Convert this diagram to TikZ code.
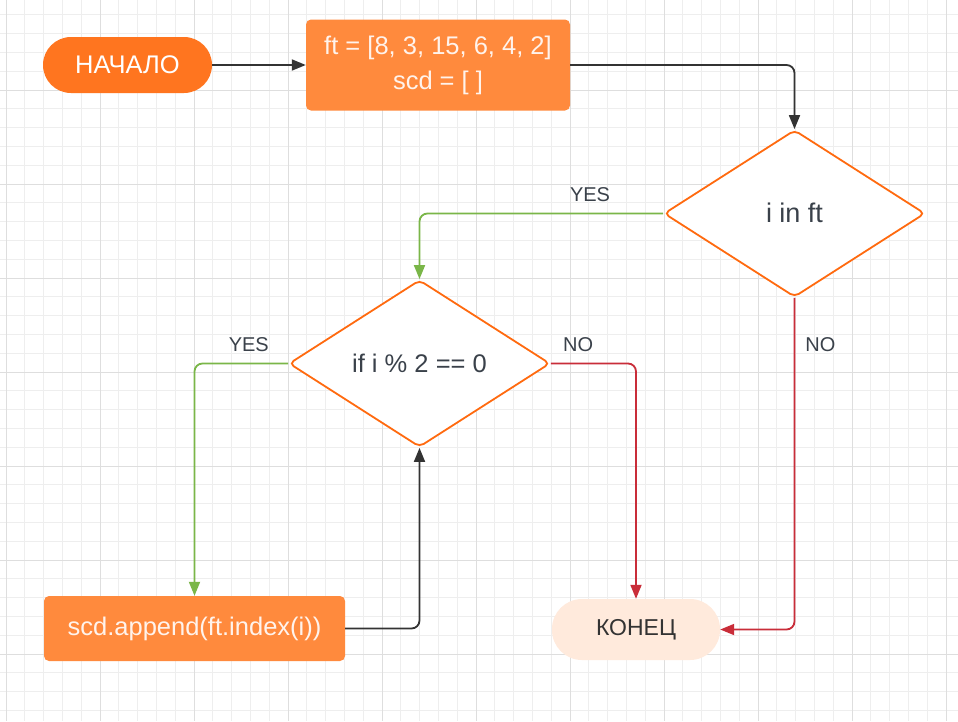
\documentclass[tikz,border=0pt]{standalone}
\usepackage{fontspec}
\setmainfont{Liberation Sans}
\usetikzlibrary{shapes.geometric,arrows.meta}

\definecolor{startorange}{HTML}{FF751F}
\definecolor{boxorange}{HTML}{FF8A3D}
\definecolor{lineorange}{HTML}{FF6A0F}
\definecolor{boxtext}{HTML}{FFF3EC}
\definecolor{yesgreen}{HTML}{7AB648}
\definecolor{nored}{HTML}{C92D39}
\definecolor{endpeach}{HTML}{FFEADC}
\definecolor{textdark}{HTML}{3A414A}
\definecolor{flowdark}{HTML}{333333}
\definecolor{gridminor}{HTML}{EEEEEE}
\definecolor{gridmajor}{HTML}{DEDEDE}

\tikzset{
  startnode/.style={rectangle, rounded corners=28pt, fill=startorange, text=white,
    minimum width=169pt, minimum height=56pt, inner sep=0pt},
  endnode/.style={rectangle, rounded corners=30pt, fill=endpeach, text=flowdark,
    minimum width=168pt, minimum height=61pt, inner sep=0pt,
    font=\fontsize{23}{28}\selectfont},
  procbox/.style={rectangle, rounded corners=5pt, fill=boxorange, text=boxtext,
    align=center, inner sep=0pt},
  decision/.style={diamond, draw=lineorange, line width=1.8pt, fill=white,
    rounded corners=5pt, minimum width=261pt, minimum height=167pt,
    inner sep=0pt, text=textdark},
  flow/.style={line width=1.8pt, rounded corners=8pt, flowdark,
    -{Triangle[length=14pt,width=11pt]}},
  edgelabel/.style={font=\fontsize{20}{24}\selectfont, text=textdark, inner sep=0pt}
}

\begin{document}
\begin{tikzpicture}[x=1pt, y=-1pt, every node/.style={font=\fontsize{25.5}{35}\selectfont}]
  \useasboundingbox (0,0) rectangle (958,721);
  \fill[white] (0,0) rectangle (958,721);

  % grid
  \foreach \k in {0,...,50} {
    \draw[gridminor, line width=1pt] ({6+18.8*\k},0) -- ({6+18.8*\k},721);
  }
  \foreach \k in {0,...,38} {
    \draw[gridminor, line width=1pt] (0,{-4+18.8*\k}) -- (958,{-4+18.8*\k});
  }
  \foreach \k in {0,...,10} {
    \draw[gridmajor, line width=1pt] ({6+94*\k},0) -- ({6+94*\k},721);
  }
  \foreach \k in {1,...,7} {
    \draw[gridmajor, line width=1pt] (0,{-4+94*\k}) -- (958,{-4+94*\k});
  }

  % blocks
  \node[startnode] (start) at (127.5,65) {НАЧАЛО};
  \node[procbox, minimum width=264pt, minimum height=91pt] (init) at (438,65)
    {ft = [8, 3, 15, 6, 4, 2]\\scd = [ ]};
  \node[decision, font=\fontsize{27}{32}\selectfont] (loop) at (794.5,213.5) {\raisebox{2pt}{i in ft}};
  \node[decision] (check) at (419.5,363.5) {if i \% 2 == 0};
  \node[procbox, minimum width=301pt, minimum height=65pt] (append) at (194.5,628.5)
    {scd.append(ft.index(i))};
  \node[endnode] (stop) at (636,629.5) {КОНЕЦ};

  % connectors
  \draw[flow] (start.east) -- (init.west);
  \draw[flow] (init.east) -| (loop.north);
  \draw[flow, yesgreen] (loop.west) -| node[edgelabel, pos=0.15, above=11pt] {YES} (check.north);
  \draw[flow, nored] (loop.south) |- node[edgelabel, pos=0.07, right=10pt] {NO} (stop.east);
  \draw[flow, yesgreen] (check.west) -| node[edgelabel, pos=0.21, above=11pt] {YES} (append.north);
  \draw[flow, nored] (check.east) -| node[edgelabel, pos=0.16, above=11pt] {NO} (stop.north);
  \draw[flow] (append.east) -| (check.south);
\end{tikzpicture}
\end{document}
